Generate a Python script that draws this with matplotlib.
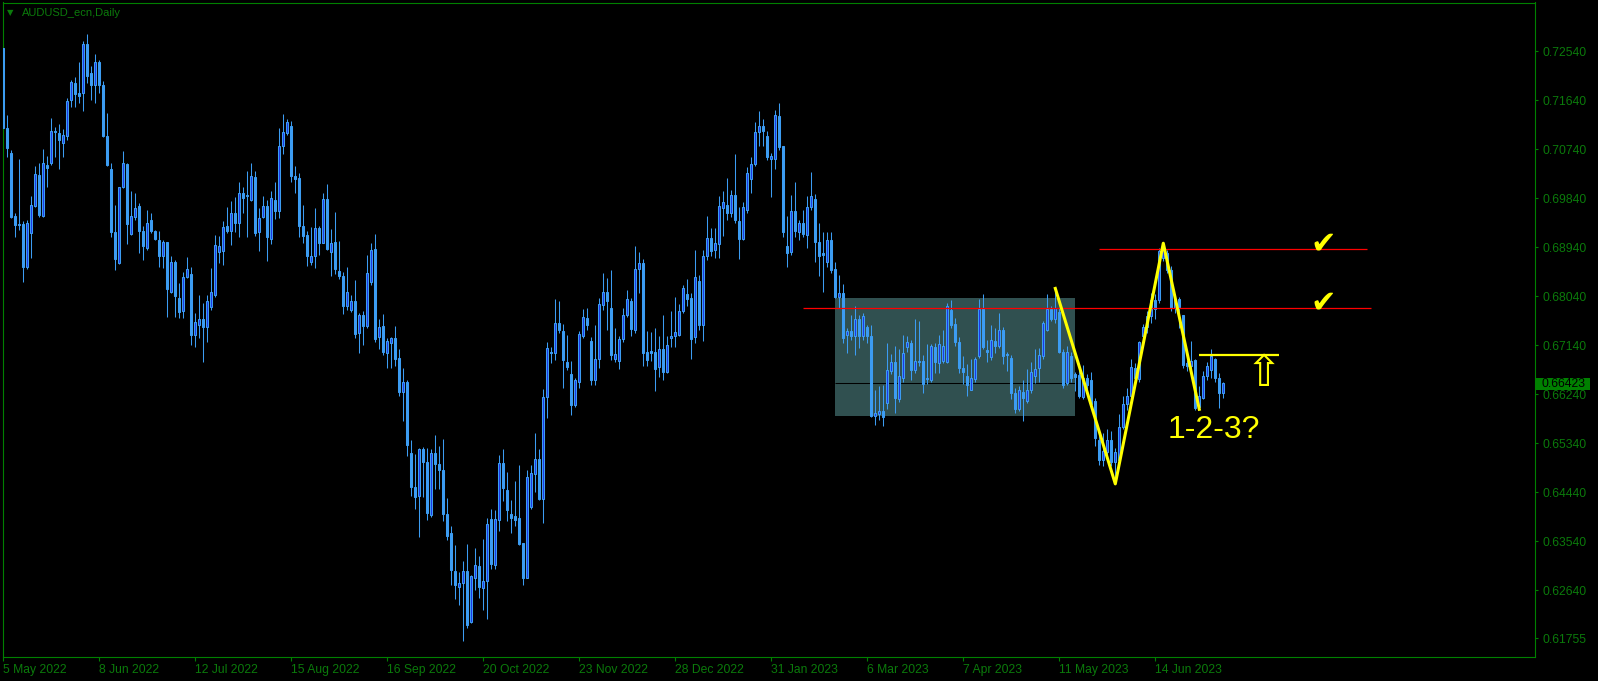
import numpy as np
import matplotlib.pyplot as plt
from matplotlib.patches import Rectangle
from matplotlib.transforms import blended_transform_factory

# daily AUDUSD bars, prices in 1/10000
opens = [7259, 7112, 7066, 6951, 6937, 6937, 6857, 6919, 6970, 7027, 6951, 7045, 7048, 7107, 7104, 7085,
         7097, 7164, 7195, 7177, 7177, 7267, 7213, 7192, 7233, 7192, 7098, 7038, 6921, 6864, 7004, 7047,
         6918, 6950, 6970, 6924, 6892, 6944, 6923, 6907, 6877, 6903, 6811, 6866, 6800, 6776, 6839, 6845,
         6733, 6750, 6762, 6748, 6784, 6806, 6885, 6886, 6933, 6924, 6956, 6939, 6993, 6990, 6981, 7022,
         6921, 6950, 6970, 6908, 6981, 6961, 7079, 7103, 7117, 7025, 7020, 6933, 6916, 6867, 6877, 6929,
         6902, 6983, 6885, 6903, 6850, 6841, 6785, 6779, 6795, 6736, 6769, 6749, 6829, 6891, 6728, 6749,
         6700, 6717, 6727, 6690, 6627, 6646, 6515, 6453, 6436, 6523, 6499, 6402, 6515, 6495, 6485, 6403,
         6368, 6299, 6269, 6277, 6299, 6206, 6286, 6308, 6267, 6280, 6395, 6310, 6392, 6497, 6448, 6403,
         6400, 6396, 6350, 6287, 6416, 6477, 6504, 6431, 6619, 6702, 6699, 6754, 6740, 6682, 6661, 6604,
         6647, 6731, 6763, 6722, 6649, 6688, 6787, 6811, 6782, 6688, 6684, 6725, 6769, 6794, 6741, 6853,
         6864, 6701, 6703, 6701, 6674, 6706, 6665, 6727, 6730, 6733, 6777, 6808, 6800, 6728, 6832, 6751,
         6877, 6910, 6889, 6900, 6966, 6971, 6956, 6989, 6942, 6909, 6962, 7019, 7046, 7105, 7117, 7097,
         7055, 7055, 7135, 7079, 6896, 6884, 6960, 6922, 6938, 6916, 6968, 6982, 6904, 6883, 6866, 6907,
         6854, 6803, 6810, 6732, 6740, 6730, 6762, 6730, 6747, 6731, 6583, 6587, 6592, 6608, 6666, 6683,
         6615, 6653, 6710, 6718, 6668, 6685, 6685, 6652, 6649, 6710, 6681, 6685, 6683, 6779, 6753, 6720,
         6672, 6658, 6632, 6652, 6693, 6781, 6704, 6692, 6722, 6713, 6742, 6698, 6690, 6626, 6597, 6628,
         6612, 6631, 6657, 6671, 6693, 6741, 6780, 6762, 6775, 6702, 6644, 6693, 6661, 6659, 6618, 6653,
         6650, 6611, 6540, 6503, 6518, 6539, 6500, 6502, 6563, 6605, 6620, 6672, 6652, 6731, 6747, 6767,
         6797, 6796, 6873, 6883, 6852, 6782, 6799, 6770, 6681, 6675, 6687, 6601, 6617, 6658, 6669, 6688,
         6653, 6626]
highs = [7268, 7137, 7073, 6956, 7055, 6941, 6944, 6987, 7043, 7048, 7074, 7062, 7131, 7115, 7120, 7110,
         7167, 7201, 7207, 7233, 7273, 7286, 7226, 7249, 7237, 7199, 7141, 7048, 6971, 7005, 7071, 7049,
         6996, 6994, 6975, 6932, 6962, 6956, 6926, 6923, 6907, 6904, 6877, 6870, 6828, 6849, 6875, 6858,
         6773, 6806, 6791, 6806, 6855, 6916, 6915, 6941, 6968, 6978, 6986, 7014, 7005, 7033, 7048, 7033,
         6965, 6987, 6981, 6997, 7013, 7112, 7138, 7129, 7126, 7042, 7030, 6971, 6923, 6930, 6965, 6933,
         6994, 7010, 6927, 6958, 6905, 6849, 6858, 6806, 6834, 6773, 6776, 6880, 6902, 6918, 6762, 6771,
         6727, 6729, 6749, 6706, 6672, 6650, 6540, 6514, 6525, 6526, 6525, 6523, 6549, 6528, 6541, 6433,
         6382, 6347, 6298, 6318, 6349, 6292, 6341, 6327, 6358, 6396, 6413, 6411, 6512, 6523, 6481, 6430,
         6465, 6494, 6351, 6484, 6493, 6552, 6523, 6633, 6719, 6711, 6799, 6795, 6753, 6733, 6685, 6653,
         6740, 6780, 6782, 6728, 6751, 6801, 6847, 6837, 6852, 6745, 6731, 6782, 6815, 6800, 6895, 6884,
         6872, 6739, 6738, 6746, 6730, 6769, 6730, 6777, 6803, 6790, 6824, 6836, 6809, 6889, 6843, 6889,
         6951, 6929, 6929, 6987, 6996, 7020, 6999, 7065, 6968, 6976, 7041, 7059, 7123, 7144, 7129, 7108,
         7066, 7146, 7159, 7080, 6951, 6990, 7014, 6944, 6962, 6988, 7031, 6992, 6938, 6921, 6922, 6922,
         6867, 6843, 6827, 6745, 6770, 6786, 6770, 6772, 6751, 6750, 6631, 6638, 6641, 6718, 6698, 6713,
         6706, 6733, 6730, 6724, 6761, 6758, 6696, 6715, 6715, 6718, 6733, 6741, 6791, 6796, 6764, 6728,
         6693, 6680, 6688, 6692, 6799, 6808, 6723, 6750, 6745, 6773, 6748, 6701, 6695, 6635, 6639, 6649,
         6670, 6683, 6706, 6709, 6759, 6807, 6785, 6820, 6782, 6707, 6713, 6701, 6664, 6679, 6678, 6661,
         6664, 6617, 6559, 6552, 6560, 6556, 6525, 6587, 6620, 6635, 6688, 6681, 6721, 6753, 6776, 6810,
         6807, 6893, 6900, 6889, 6859, 6807, 6803, 6770, 6687, 6721, 6688, 6639, 6666, 6682, 6707, 6690,
         6663, 6647]
lows = [7078, 7060, 6947, 6912, 6926, 6829, 6853, 6874, 6968, 6950, 6950, 7004, 7045, 7060, 7037, 7059,
        7091, 7152, 7151, 7158, 7143, 7195, 7164, 7158, 7177, 7096, 7042, 6912, 6851, 6863, 7002, 6899,
        6916, 6944, 6883, 6871, 6888, 6920, 6907, 6858, 6855, 6765, 6809, 6766, 6763, 6763, 6837, 6714,
        6711, 6727, 6682, 6719, 6779, 6803, 6864, 6861, 6919, 6898, 6921, 6912, 6956, 6912, 6978, 6915,
        6886, 6947, 6869, 6899, 6945, 6947, 7065, 7100, 7013, 6993, 6912, 6901, 6859, 6861, 6856, 6880,
        6901, 6889, 6841, 6844, 6835, 6771, 6779, 6774, 6727, 6699, 6714, 6745, 6825, 6720, 6706, 6696,
        6672, 6672, 6676, 6621, 6574, 6511, 6437, 6413, 6362, 6435, 6392, 6399, 6449, 6449, 6390, 6356,
        6274, 6247, 6236, 6170, 6194, 6203, 6264, 6250, 6228, 6211, 6302, 6302, 6372, 6427, 6390, 6368,
        6381, 6347, 6274, 6286, 6413, 6445, 6430, 6387, 6580, 6681, 6686, 6736, 6635, 6668, 6585, 6601,
        6635, 6727, 6742, 6641, 6640, 6671, 6779, 6742, 6687, 6682, 6670, 6720, 6766, 6730, 6736, 6810,
        6676, 6676, 6684, 6629, 6656, 6650, 6662, 6711, 6711, 6730, 6772, 6785, 6688, 6717, 6742, 6722,
        6870, 6877, 6873, 6873, 6915, 6944, 6950, 6938, 6872, 6906, 6956, 6994, 7042, 7080, 7080, 7054,
        6985, 7037, 7072, 6913, 6857, 6880, 6913, 6907, 6913, 6892, 6962, 6866, 6841, 6812, 6858, 6846,
        6800, 6782, 6718, 6699, 6724, 6695, 6709, 6724, 6718, 6582, 6568, 6576, 6565, 6597, 6660, 6590,
        6609, 6647, 6702, 6650, 6663, 6675, 6625, 6643, 6647, 6663, 6663, 6681, 6681, 6745, 6712, 6663,
        6642, 6620, 6631, 6647, 6690, 6706, 6682, 6687, 6699, 6709, 6679, 6666, 6614, 6589, 6592, 6574,
        6608, 6626, 6644, 6647, 6688, 6739, 6758, 6754, 6699, 6636, 6641, 6647, 6629, 6617, 6614, 6629,
        6598, 6529, 6493, 6491, 6510, 6491, 6461, 6497, 6559, 6595, 6614, 6647, 6647, 6718, 6736, 6754,
        6761, 6791, 6868, 6846, 6776, 6773, 6745, 6672, 6666, 6669, 6595, 6598, 6614, 6650, 6653, 6647,
        6598, 6617]
closes = [7112, 7076, 6950, 6935, 6934, 6857, 6939, 6972, 7028, 6953, 7048, 7040, 7107, 7106, 7090, 7100,
          7163, 7197, 7175, 7172, 7267, 7209, 7192, 7233, 7192, 7097, 7044, 6921, 6872, 7004, 7048, 6936,
          6951, 6965, 6924, 6895, 6938, 6923, 6909, 6878, 6903, 6817, 6866, 6804, 6774, 6839, 6853, 6733,
          6757, 6762, 6748, 6794, 6811, 6897, 6895, 6931, 6924, 6956, 6939, 6993, 6984, 6987, 7025, 6919,
          6947, 6970, 6912, 6984, 6961, 7080, 7105, 7123, 7024, 7019, 6933, 6915, 6877, 6878, 6929, 6902,
          6983, 6890, 6901, 6854, 6841, 6785, 6811, 6795, 6735, 6769, 6749, 6846, 6889, 6725, 6748, 6702,
          6722, 6727, 6689, 6627, 6646, 6530, 6454, 6434, 6523, 6500, 6405, 6515, 6495, 6485, 6403, 6364,
          6300, 6274, 6277, 6299, 6200, 6290, 6310, 6269, 6281, 6386, 6312, 6395, 6497, 6452, 6411, 6397,
          6393, 6348, 6287, 6471, 6479, 6504, 6431, 6619, 6708, 6699, 6754, 6741, 6687, 6673, 6604, 6650,
          6734, 6765, 6751, 6649, 6688, 6790, 6811, 6794, 6696, 6698, 6725, 6769, 6799, 6744, 6853, 6864,
          6700, 6686, 6700, 6670, 6706, 6665, 6714, 6731, 6738, 6777, 6818, 6798, 6725, 6839, 6751, 6877,
          6910, 6886, 6901, 6970, 6976, 6956, 6989, 6943, 6909, 6968, 7030, 7047, 7105, 7117, 7108, 7060,
          7061, 7137, 7077, 6921, 6883, 6960, 6924, 6938, 6918, 6968, 6988, 6904, 6878, 6880, 6906, 6851,
          6803, 6810, 6727, 6740, 6730, 6762, 6730, 6768, 6730, 6583, 6589, 6592, 6581, 6669, 6683, 6617,
          6657, 6699, 6720, 6669, 6684, 6682, 6643, 6654, 6712, 6683, 6715, 6713, 6786, 6751, 6719, 6671,
          6664, 6640, 6653, 6688, 6781, 6710, 6701, 6724, 6713, 6742, 6693, 6695, 6625, 6597, 6632, 6616,
          6631, 6665, 6670, 6695, 6754, 6780, 6762, 6782, 6702, 6641, 6701, 6653, 6655, 6621, 6653, 6641,
          6605, 6544, 6503, 6519, 6539, 6500, 6518, 6563, 6606, 6620, 6673, 6653, 6719, 6747, 6767, 6797,
          6780, 6886, 6890, 6852, 6782, 6799, 6784, 6678, 6675, 6684, 6598, 6620, 6657, 6675, 6693, 6653,
          6626, 6645]

date_labels = ["5 May 2022", "8 Jun 2022", "12 Jul 2022", "15 Aug 2022", "16 Sep 2022", "20 Oct 2022",
               "23 Nov 2022", "28 Dec 2022", "31 Jan 2023", "6 Mar 2023", "7 Apr 2023", "11 May 2023",
               "14 Jun 2023"]
date_bars = [0, 24, 48, 72, 96, 120, 144, 168, 192, 216, 240, 264, 288]
price_ticks = [0.72540, 0.71640, 0.70740, 0.69840, 0.68940, 0.68040, 0.67140, 0.66240, 0.65340,
               0.64440, 0.63540, 0.62640, 0.61755]
last_price = 0.66423

# objects drawn on the chart (bar index, price)
box_bars = [208, 268]
box_prices = [0.6584, 0.6801]
box_mid = 0.6644
red_levels = [0.6782, 0.6890]
red_starts = [200, 274]
red_ends = [342, 341]
check_bar = 330
zigzag_bars = [263, 278, 290, 299]
zigzag_prices = [0.6818, 0.6459, 0.6901, 0.6596]
breakout_level = 0.6695
breakout_bars = [299, 319]

LIGHT = '#3c9cf2'
DARK = '#1c36e6'
GREEN = '#008000'
TXT = '#0b7a0b'


def draw_candles(ax, o, h, l, c):
    x = np.arange(len(o))
    ax.vlines(x, l, h, color=LIGHT, linewidth=0.75, zorder=2)
    up = c >= o
    ax.bar(x[up], (c - o)[up], bottom=o[up], width=0.5, color=DARK,
           edgecolor=LIGHT, linewidth=0.75, zorder=3)
    ax.bar(x[~up], (o - c)[~up], bottom=c[~up], width=0.5, color=LIGHT,
           edgecolor=LIGHT, linewidth=0.75, zorder=3)


W, H = 1598, 681
fig = plt.figure(figsize=(W / 100, H / 100), dpi=100, facecolor='black')
ax = fig.add_axes([2.5 / W, (H - 657.3) / H, 1532 / W, 654.8 / H])
ax.set_facecolor('black')

o = np.array(opens) / 10000
h = np.array(highs) / 10000
l = np.array(lows) / 10000
c = np.array(closes) / 10000

ax.add_patch(Rectangle((box_bars[0], box_prices[0]), box_bars[1] - box_bars[0],
                       box_prices[1] - box_prices[0], facecolor='#305050', edgecolor='none', zorder=1))
ax.hlines(box_mid, box_bars[0], box_bars[1], color='black', linewidth=0.75, zorder=1.5)

draw_candles(ax, o, h, l, c)

for lev, x0, x1 in zip(red_levels, red_starts, red_ends):
    ax.hlines(lev, x0, x1, color='red', linewidth=0.9, zorder=4)
    ax.text(check_bar, lev - 0.0006, '\u2714', color='yellow', fontsize=22,
            ha='center', va='baseline', family='DejaVu Sans', zorder=6)

ax.plot(zigzag_bars, zigzag_prices, color='yellow', linewidth=2.2, zorder=5)
ax.hlines(breakout_level, breakout_bars[0], breakout_bars[1], color='yellow', linewidth=1.6, zorder=5)
ax.text(315, 0.6660, '\u21e7', color='yellow', fontsize=31, ha='center', va='center',
        family='DejaVu Sans', zorder=6)
ax.text(291, 0.6558, '1-2-3?', color='yellow', fontsize=23, ha='left', va='center',
        family='Liberation Sans', zorder=6)

ax.set_xlim(-0.2, 382.8)
ax.set_ylim(0.61405, 0.73431)

for sp in ax.spines.values():
    sp.set_color(GREEN)
    sp.set_linewidth(0.8)

ax.yaxis.tick_right()
ax.set_yticks(price_ticks)
ax.set_yticklabels(['%.5f' % p for p in price_ticks])
ax.set_xticks(date_bars)
ax.set_xticklabels(date_labels, ha='left')
ax.tick_params(colors=GREEN, labelcolor=TXT, width=0.8, labelsize=8.7)
ax.tick_params(axis='y', length=2.5, pad=3.5)
ax.tick_params(axis='x', length=3, pad=1.5)
for t in ax.get_xticklabels() + ax.get_yticklabels():
    t.set_family('Liberation Sans')

# current price marker on the scale
tr = blended_transform_factory(ax.transAxes, ax.transData)
ax.add_patch(Rectangle((1.0005, last_price - 0.0011), 55 / 1532, 0.0022, transform=tr,
                       facecolor=GREEN, edgecolor='none', clip_on=False, zorder=5))
ax.text(1.0 + 7 / 1532, last_price, '%.5f' % last_price, transform=tr, color='black',
        fontsize=8.7, va='center', ha='left', family='Liberation Sans', zorder=6)

fig.text(21.7 / W, 1 - 13 / H, 'AUDUSD_ecn,Daily', color=TXT, fontsize=8,
         va='center', ha='left', family='Liberation Sans')
fig.text(10.5 / W, 1 - 12.5 / H, '\u25bc', color=TXT, fontsize=6,
         va='center', ha='center', family='DejaVu Sans')

fig.savefig('out.png', dpi=100, facecolor='black')
